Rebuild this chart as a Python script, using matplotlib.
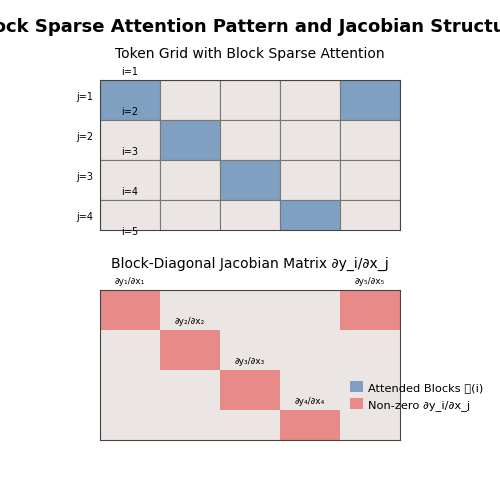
import matplotlib.pyplot as plt
from matplotlib.patches import Rectangle, Patch

n_cols = 5
n_rows = 4
attended = [(0, 0), (1, 1), (2, 2), (3, 3), (4, 0)]   # (col, row)
jac_nonzero = [(0, 0), (1, 1), (2, 2), (3, 3), (4, 0)]
jac_labels = ["∂y₁/∂x₁", "∂y₂/∂x₂", "∂y₃/∂x₃", "∂y₄/∂x₄", "∂y₅/∂x₅"]
i_labels = ["i=1", "i=2", "i=3", "i=4", "i=5"]
j_labels = ["j=1", "j=2", "j=3", "j=4"]

bg = "#ebe6e3"
blue = "#7fa0c0"
red = "#e88a88"

fig = plt.figure(figsize=(5, 5), dpi=100)
fig.suptitle("Block Sparse Attention Pattern and Jacobian Structure",
             fontsize=13, fontweight="bold", y=0.965)

def draw_grid(ax, marked, color, edge):
    for c in range(n_cols):
        for r in range(n_rows):
            fc = color if (c, r) in marked else bg
            ax.add_patch(Rectangle((c, r), 1, 1, facecolor=fc,
                                   edgecolor=edge, linewidth=0.8))
    ax.set_xlim(0, n_cols)
    ax.set_ylim(3.75, 0)
    ax.set_xticks([])
    ax.set_yticks([])
    for s in ax.spines.values():
        s.set_color("#444444")

ax1 = fig.add_axes([0.2, 0.54, 0.6, 0.3])
draw_grid(ax1, attended, blue, "#777777")
ax1.set_title("Token Grid with Block Sparse Attention", fontsize=10, pad=16)
for k, lab in enumerate(i_labels):
    ax1.text(0.5, k - 0.2, lab, ha="center", va="center", fontsize=7, clip_on=False)
for k, lab in enumerate(j_labels):
    ax1.text(-0.25, k + 0.43, lab, ha="center", va="center", fontsize=7, clip_on=False)

ax2 = fig.add_axes([0.2, 0.12, 0.6, 0.3])
draw_grid(ax2, jac_nonzero, red, "none")
ax2.set_title("Block-Diagonal Jacobian Matrix ∂y_i/∂x_j", fontsize=10, pad=16)
for k, (c, r) in enumerate(jac_nonzero):
    ax2.text(c + 0.5, r - 0.2, jac_labels[k], ha="center", va="center",
             fontsize=6.5, clip_on=False)

handles = [Patch(facecolor=blue, label="Attended Blocks 𝒜(i)"),
           Patch(facecolor=red, label="Non-zero ∂y_i/∂x_j")]
fig.legend(handles=handles, loc="center left", bbox_to_anchor=(0.68, 0.208),
           frameon=False, fontsize=8.2, handlelength=1.1, handleheight=1.1,
           handletextpad=0.5)

fig.savefig("out.png", dpi=100)
